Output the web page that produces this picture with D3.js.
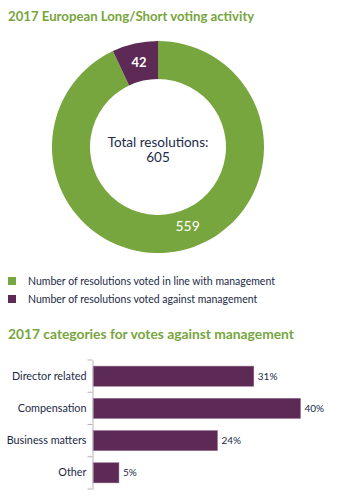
<!DOCTYPE html>
<html><head><meta charset="utf-8">
<script src="https://cdn.jsdelivr.net/npm/d3@7"></script>
<style>body{margin:0;background:#fff}svg{display:block;font-family:Lato,"Open Sans",sans-serif}</style>
</head><body>
<script>
const donutLabels = ["Number of resolutions voted in line with management","Number of resolutions voted against management"];
const donutValues = [559, 42];
const totalResolutions = 605;
const barCategories = ["Director related","Compensation","Business matters","Other"];
const barValues = [31, 40, 24, 5];

const green = "#77a53e", purple = "#5c2a55", navy = "#1b2a47";
const W = 359, H = 499;
const svg = d3.select("body").append("svg").attr("width", W).attr("height", H);

svg.append("text").attr("x", 8).attr("y", 21).attr("fill", green)
  .attr("font-size", 13.2).attr("font-weight", "bold").text("2017 European Long/Short voting activity");

// donut
const cx = 158, cy = 147, R = 106, r = 68;
const pie = d3.pie().sort(null).value(d => d);
const arcs = pie(donutValues);
const arc = d3.arc().innerRadius(r).outerRadius(R);
const g = svg.append("g").attr("transform", `translate(${cx},${cy})`);
const colors = [green, purple];
g.selectAll("path").data(arcs).join("path").attr("d", arc).attr("fill", (d, i) => colors[i]);
// labels
const labelArc = d3.arc().innerRadius((r + R) / 2).outerRadius((r + R) / 2);
g.append("text").attr("transform", () => {
  const a = arcs[1]; const c = labelArc.centroid(a); return `translate(${c[0]},${c[1]})`;
}).attr("text-anchor", "middle").attr("dy", "0.35em").attr("fill", "#fff")
  .attr("font-weight", "bold").attr("font-size", 13).text(donutValues[1]);
g.append("text").attr("transform", () => {
  const mid = arcs[0].endAngle * 0.478;
  const c = labelArc.centroid({startAngle: mid, endAngle: mid}); return `translate(${c[0]},${c[1] - 3})`;
}).attr("text-anchor", "middle").attr("dy", "0.35em").attr("fill", "#fff")
  .attr("font-size", 14).text(donutValues[0]);
g.append("text").attr("text-anchor", "middle").attr("y", -5).attr("dy", "0.35em")
  .attr("fill", navy).attr("font-size", 13.5).text("Total resolutions:");
g.append("text").attr("text-anchor", "middle").attr("y", 10).attr("dy", "0.35em")
  .attr("fill", navy).attr("font-size", 13.5).text(totalResolutions);

// legend
const leg = svg.append("g");
donutLabels.forEach((t, i) => {
  const y = 281 + i * 18;
  leg.append("rect").attr("x", 8).attr("y", y - 4).attr("width", 8).attr("height", 8).attr("fill", colors[i]);
  leg.append("text").attr("x", 28).attr("y", y).attr("dy", "0.35em").attr("fill", navy)
    .attr("font-size", 10.5).text(t);
});

svg.append("text").attr("x", 8).attr("y", 339).attr("fill", green)
  .attr("font-size", 13.8).attr("font-weight", "bold").text("2017 categories for votes against management");

// bars
const x0 = 93, y0 = 360, y1 = 489;
const x = d3.scaleLinear().domain([0, 40]).range([x0, 300.5]);
const y = d3.scaleBand().domain(barCategories).range([y0, y1]).paddingInner(0.375).paddingOuter(0.19);
const bg = svg.append("g");
bg.selectAll("rect").data(barCategories).join("rect")
  .attr("x", x(0)).attr("y", d => y(d)).attr("width", (d, i) => x(barValues[i]) - x(0))
  .attr("height", y.bandwidth()).attr("fill", purple).attr("stroke", "#8d6a88").attr("stroke-width", 0.5);
bg.selectAll("text.v").data(barCategories).join("text").attr("class", "v")
  .attr("x", (d, i) => x(barValues[i]) + 4).attr("y", d => y(d) + y.bandwidth() / 2).attr("dy", "0.35em")
  .attr("fill", navy).attr("font-size", 10).text((d, i) => barValues[i] + "%");
// axis
const axis = d3.axisLeft(y).tickSize(0).tickPadding(6);
const ax = svg.append("g").attr("transform", `translate(${x0 - 0.5},0)`).call(axis);
ax.select(".domain").attr("stroke", "#b5b5b5");
ax.selectAll(".tick text").attr("fill", navy).attr("font-size", 10.8).attr("font-family", "Lato, sans-serif");
// band boundary ticks
const bounds = d3.range(5).map(i => y0 + i * (y1 - y0) / 4);
ax.selectAll("line.b").data(bounds).join("line").attr("class", "b")
  .attr("x1", -5).attr("x2", 0).attr("y1", d => d).attr("y2", d => d).attr("stroke", "#b5b5b5");
</script>
</body></html>
